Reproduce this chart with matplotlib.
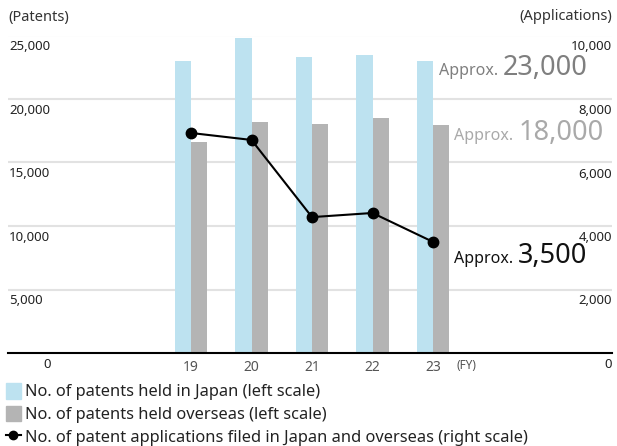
import numpy as np
import matplotlib.pyplot as plt
from matplotlib.patches import Patch
from matplotlib.lines import Line2D

plt.rcParams['font.family'] = ['Noto Sans', 'DejaVu Sans']

# data
years = ['19', '20', '21', '22', '23']
held_japan = [23000, 24800, 23300, 23450, 23000]
held_overseas = [16600, 18200, 18050, 18500, 17950]
applications = [6930, 6710, 4280, 4410, 3500]
left_ticks = [5000, 10000, 15000, 20000, 25000]
right_ticks = [2000, 4000, 6000, 8000, 10000]

W, H = 617, 446
blue = '#bde2f0'
grey = '#b4b4b4'

fig = plt.figure(figsize=(W / 100, H / 100), dpi=100)
ax = fig.add_axes([8 / W, 1 - 353 / H, 604 / W, (353 - 35.5) / H])

x = np.arange(len(years))
bw = 0.265
ax.bar(x - bw / 2, held_japan, bw, color=blue, zorder=2)
ax.bar(x + bw / 2, held_overseas, bw, color=grey, zorder=2)
ax.set_xlim((8 - 191) / 60.5, (612 - 191) / 60.5)
ax.set_ylim(0, 25000)
for v in left_ticks:
    ax.axhline(v, color='#e2e2e2', lw=1.5, zorder=1)
for s in ['top', 'left', 'right']:
    ax.spines[s].set_visible(False)
ax.spines['bottom'].set_color('black')
ax.spines['bottom'].set_linewidth(1.5)
ax.spines['bottom'].set_zorder(3)
ax.set_yticks([])
ax.set_xticks(x, years)
ax.tick_params(axis='x', length=0, pad=5, labelsize=10, labelcolor='#555555')

# left scale labels sit under the gridlines
for v in left_ticks:
    ax.annotate(f'{v:,}', xy=(0, v), xycoords=('axes fraction', 'data'),
                xytext=(1, -5), textcoords='offset pixels',
                ha='left', va='top', fontsize=9.5, color='#222222')
ax.annotate('0', xy=(47 / W, 0), xycoords=('figure fraction', 'data'),
            xytext=(0, -5), textcoords='offset pixels',
            ha='center', va='top', fontsize=9.5, color='#222222')
ax.annotate('(FY)', xy=(4, 0), xycoords='data', xytext=(33, -6),
            textcoords='offset pixels', ha='center', va='top',
            fontsize=8.5, color='#555555')

ax2 = ax.twinx()
ax2.set_ylim(0, 10000)
ax2.plot(x, applications, '-o', color='black', lw=1.5, ms=7.5, zorder=4)
for s in ax2.spines.values():
    s.set_visible(False)
ax2.set_yticks([])
for v in right_ticks + [0]:
    ax2.annotate(f'{v:,}', xy=(1, v), xycoords=('axes fraction', 'data'),
                 xytext=(0, -5), textcoords='offset pixels',
                 ha='right', va='top', fontsize=9.5, color='#222222')

# axis titles
fig.text(8 / W, 1 - 17 / H, '(Patents)', ha='left', va='center',
         fontsize=10.5, color='#333333')
fig.text(612 / W, 1 - 17 / H, '(Applications)', ha='right', va='center',
         fontsize=10.5, color='#333333')

# callouts: "Approx." starts at xa, number ends at xn
callouts = [
    (439, 588, 75, '23,000', '#7f7f7f'),
    (454, 604, 140, '18,000', '#a9a9a9'),
    (454, 587, 263, '3,500', '#111111'),
]
for xa, xn, yb, num, col in callouts:
    fig.text(xa / W, 1 - yb / H, 'Approx.', ha='left', va='baseline',
             fontsize=11.5, color=col)
    fig.text(xn / W, 1 - yb / H, num, ha='right', va='baseline',
             fontsize=19.5, color=col)

handles = [
    Patch(color=blue),
    Patch(color=grey),
    Line2D([], [], color='black', marker='o', ms=6, lw=1.5),
]
labels = [
    'No. of patents held in Japan (left scale)',
    'No. of patents held overseas (left scale)',
    'No. of patent applications filed in Japan and overseas (right scale)',
]
fig.legend(handles, labels, loc='upper left', bbox_to_anchor=(6 / W, 1 - 383 / H),
           frameon=False, fontsize=11.8, handlelength=0.9, handleheight=1.1,
           handletextpad=0.25, labelspacing=0.32, borderpad=0, borderaxespad=0,
           labelcolor='#222222')

fig.savefig('out.png', dpi=100)
